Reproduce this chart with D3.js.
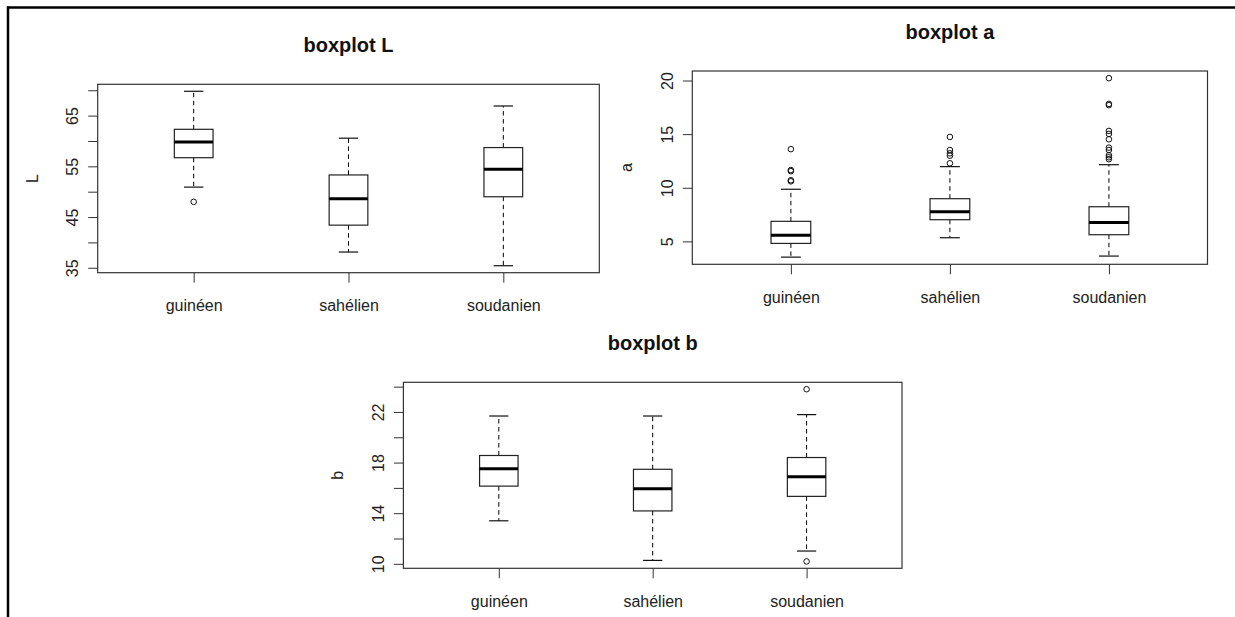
<!DOCTYPE html>
<html><head><meta charset="utf-8">
<script src="https://cdn.jsdelivr.net/npm/d3@7/dist/d3.min.js"></script>
<style>
body{margin:0;background:#fff;}
svg{display:block;}
</style>
</head><body>
<svg id="c" width="1235" height="617"></svg>
<script>
// ---------- data ----------
const categories = ["guinéen", "sahélien", "soudanien"];

// boxplot L
const L_low  = [50.9, 38.1, 35.4];
const L_q1   = [56.7, 43.4, 49.0];
const L_med  = [59.8, 48.6, 54.4];
const L_q3   = [62.3, 53.3, 58.7];
const L_high = [69.8, 60.55, 66.9];
const L_out  = [[48.0], [], []];
const L_ticks = [35, 40, 45, 50, 55, 60, 65, 70];
const L_tickLabels = ["35", "", "45", "", "55", "", "65", ""];

// boxplot a
const a_low  = [3.53, 5.34, 3.63];
const a_q1   = [4.81, 7.02, 5.62];
const a_med  = [5.56, 7.76, 6.77];
const a_q3   = [6.87, 8.98, 8.23];
const a_high = [9.86, 11.97, 12.15];
const a_out  = [
  [10.6, 10.7, 11.55, 11.65, 13.6],
  [12.28, 12.99, 13.21, 13.52, 14.74],
  [12.66, 12.84, 13.03, 13.52, 13.74, 14.52, 15.02, 15.30, 17.70, 17.82, 20.22]
];
const a_ticks = [5, 10, 15, 20];
const a_tickLabels = ["5", "10", "15", "20"];

// boxplot b
const b_low  = [13.4, 10.27, 11.01];
const b_q1   = [16.14, 14.18, 15.33];
const b_med  = [17.52, 15.94, 16.89];
const b_q3   = [18.56, 17.47, 18.4];
const b_high = [21.68, 21.68, 21.79];
const b_out  = [[], [], [10.19, 23.8]];
const b_ticks = [10, 12, 14, 16, 18, 20, 22, 24];
const b_tickLabels = ["10", "", "14", "", "18", "", "22", ""];

// ---------- layout ----------
const FONT = '"Liberation Sans", Arial, Helvetica, sans-serif';
const panels = [
  {title: "boxplot L", ylab: "L", low: L_low, q1: L_q1, med: L_med, q3: L_q3, high: L_high, out: L_out,
   ticks: L_ticks, tickLabels: L_tickLabels, x0: 97.7, x1: 599.3, y0: 84.3, y1: 272.7},
  {title: "boxplot a", ylab: "a", low: a_low, q1: a_q1, med: a_med, q3: a_q3, high: a_high, out: a_out,
   ticks: a_ticks, tickLabels: a_tickLabels, x0: 692.3, x1: 1207.5, y0: 71, y1: 264.3},
  {title: "boxplot b", ylab: "b", low: b_low, q1: b_q1, med: b_med, q3: b_q3, high: b_high, out: b_out,
   ticks: b_ticks, tickLabels: b_tickLabels, x0: 403.4, x1: 902, y0: 382.3, y1: 568.3}
];

const svg = d3.select("#c");
svg.append("rect").attr("width", 1235).attr("height", 617).attr("fill", "#fff");

// outer frame (top and left)
svg.append("line").attr("x1", 7).attr("x2", 1235).attr("y1", 7.5).attr("y2", 7.5)
  .attr("stroke", "#000").attr("stroke-width", 2.5);
svg.append("line").attr("x1", 8).attr("x2", 8).attr("y1", 6.5).attr("y2", 617)
  .attr("stroke", "#000").attr("stroke-width", 2.5);

const n = categories.length;
panels.forEach(p => {
  const allVals = p.low.concat(p.high, p.out.flat());
  const mn = d3.min(allVals), mx = d3.max(allVals), r = mx - mn;
  const y = d3.scaleLinear().domain([mn - 0.04 * r, mx + 0.04 * r]).range([p.y1, p.y0]);
  const x = d3.scaleLinear().domain([0.5 - 0.04 * n, n + 0.5 + 0.04 * n]).range([p.x0, p.x1]);
  const halfW = (x(1.125) - x(1));
  const g = svg.append("g");

  // title
  g.append("text").attr("x", (p.x0 + p.x1) / 2).attr("y", p.y0 - 32.5)
    .attr("text-anchor", "middle").attr("font-family", FONT).attr("font-weight", "bold")
    .attr("font-size", 20).attr("fill", "#111").text(p.title);

  // y label
  g.append("text")
    .attr("transform", `translate(${p.x0 - 60},${(p.y0 + p.y1) / 2}) rotate(-90)`)
    .attr("text-anchor", "middle").attr("font-family", FONT).attr("font-size", 16)
    .attr("fill", "#222").text(p.ylab);

  // y axis
  const ya = g.append("g").attr("transform", `translate(${p.x0},0)`)
    .call(d3.axisLeft(y).tickValues(p.ticks).tickFormat((d, i) => p.tickLabels[i])
      .tickSizeInner(9.5).tickSizeOuter(0));
  ya.select(".domain").remove();
  ya.selectAll(".tick line").attr("stroke", "#333").attr("stroke-width", 1);
  ya.selectAll(".tick text")
    .attr("transform", "rotate(-90)").attr("x", 0).attr("y", -19.4).attr("dy", 0)
    .attr("text-anchor", "middle").attr("font-family", FONT).attr("font-size", 16)
    .attr("fill", "#222");

  // x axis
  const xa = g.append("g").attr("transform", `translate(0,${p.y1})`)
    .call(d3.axisBottom(x).tickValues(d3.range(1, n + 1)).tickFormat(d => categories[d - 1])
      .tickSizeInner(10).tickSizeOuter(0));
  xa.select(".domain").remove();
  xa.selectAll(".tick line").attr("stroke", "#333").attr("stroke-width", 1);
  xa.selectAll(".tick text").attr("y", 38.5).attr("dy", 0)
    .attr("font-family", FONT).attr("font-size", 16).attr("fill", "#222");

  // boxes
  const idx = d3.range(n);
  const bx = g.append("g");
  // whiskers (dashed)
  bx.selectAll(".wu").data(idx).join("line")
    .attr("x1", i => x(i + 1)).attr("x2", i => x(i + 1))
    .attr("y1", i => y(p.q3[i])).attr("y2", i => y(p.high[i]))
    .attr("stroke", "#000").attr("stroke-width", 1).attr("stroke-dasharray", "4.5,3.5");
  bx.selectAll(".wl").data(idx).join("line")
    .attr("x1", i => x(i + 1)).attr("x2", i => x(i + 1))
    .attr("y1", i => y(p.q1[i])).attr("y2", i => y(p.low[i]))
    .attr("stroke", "#000").attr("stroke-width", 1).attr("stroke-dasharray", "4.5,3.5");
  // caps
  [p.high, p.low].forEach(arr => {
    bx.selectAll(null).data(idx).join("line")
      .attr("x1", i => x(i + 1) - halfW / 2).attr("x2", i => x(i + 1) + halfW / 2)
      .attr("y1", i => y(arr[i])).attr("y2", i => y(arr[i]))
      .attr("stroke", "#111").attr("stroke-width", 1.2);
  });
  // box
  bx.selectAll(null).data(idx).join("rect")
    .attr("x", i => x(i + 1) - halfW).attr("width", 2 * halfW)
    .attr("y", i => y(p.q3[i])).attr("height", i => y(p.q1[i]) - y(p.q3[i]))
    .attr("fill", "#fff").attr("stroke", "#222").attr("stroke-width", 1.2);
  // median
  bx.selectAll(null).data(idx).join("line")
    .attr("x1", i => x(i + 1) - halfW).attr("x2", i => x(i + 1) + halfW)
    .attr("y1", i => y(p.med[i])).attr("y2", i => y(p.med[i]))
    .attr("stroke", "#000").attr("stroke-width", 3);
  // outliers
  const outs = [];
  p.out.forEach((arr, i) => arr.forEach(v => outs.push({i, v})));
  bx.selectAll(null).data(outs).join("circle")
    .attr("cx", d => x(d.i + 1)).attr("cy", d => y(d.v)).attr("r", 2.8)
    .attr("fill", "none").attr("stroke", "#111").attr("stroke-width", 1);

  // plot frame
  g.append("rect").attr("x", p.x0).attr("y", p.y0)
    .attr("width", p.x1 - p.x0).attr("height", p.y1 - p.y0)
    .attr("fill", "none").attr("stroke", "#333").attr("stroke-width", 1.2);
});
</script>
</body></html>
